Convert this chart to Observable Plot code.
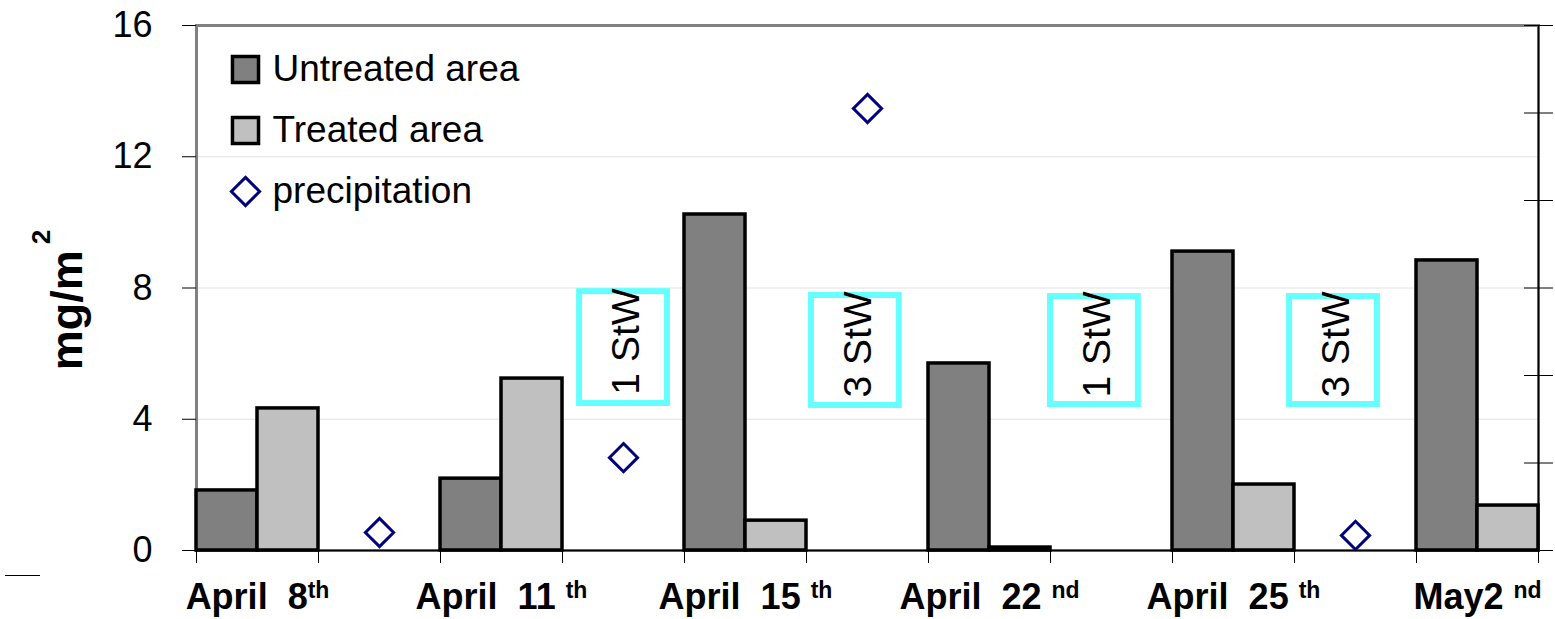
<!DOCTYPE html>
<html><head><meta charset="utf-8">
<script src="https://cdn.jsdelivr.net/npm/d3@7"></script>
<script src="https://cdn.jsdelivr.net/npm/@observablehq/plot@0.6"></script>
<style>
html,body{margin:0;padding:0;background:#fff;}
#chart{position:relative;width:1555px;height:619px;overflow:hidden;}
#chart svg text{white-space:pre;}
#stray{position:absolute;left:5px;top:575px;width:35px;height:0;border-top:1.5px solid #000;}
</style></head><body><div id="chart"><div id="stray"></div></div>
<script>
// ---- data ----
const dates = ["April  8", "April  11 ", "April  15 ", "April  22 ", "April  25 ", "May2 "];
const dateSuffix = ["th", "th", "th", "nd", "th", "nd"];
const untreated = [1.83, 2.19, 10.24, 5.70, 9.11, 8.84];
const treated = [4.33, 5.24, 0.91, 0.09, 2.01, 1.37];
const precipSlot = [1, 3, 5, 9];            // category slots between the dates
const precipitation = [0.55, 2.83, 13.47, 0.46];
const notes = ["1 StW", "3 StW", "1 StW", "3 StW"];
const noteSlot = [3.50, 5.40, 7.36, 9.32];
const noteLow = [4.48, 4.42, 4.45, 4.45];
const noteHigh = [7.89, 7.77, 7.74, 7.74];
const yTicks = [0, 4, 8, 12, 16];
const seriesNames = ["Untreated area", "Treated area", "precipitation"];

// ---- tables ----
const bars = dates.flatMap((d, g) => [
  {x1: 2 * g, x2: 2 * g + 0.5, y: untreated[g], s: seriesNames[0]},
  {x1: 2 * g + 0.5, x2: 2 * g + 1, y: treated[g], s: seriesNames[1]}
]);
const precip = precipitation.map((p, i) => ({x: precipSlot[i] + 0.5, y: p}));
const labels = dates.map((d, g) => ({x: 2 * g + 0.5, main: d, sup: dateSuffix[g]}));
const noteData = notes.map((t, i) => ({t, cx: noteSlot[i], lo: noteLow[i], hi: noteHigh[i]}));
const rightTicks = d3.range(0, 7).map(k => k * 16 / 6);
const slotTicks = d3.range(0, 12);

const FONT = "'Liberation Sans', Arial, Helvetica, sans-serif";
const boxHalf = 0.36;

const legendMarks = seriesNames.flatMap((name, i) => {
  const dy = 44 + i * 61;
  const sym = i < 2
    ? Plot.dot([name], {frameAnchor: "top-left", dx: 49, dy, symbol: "square", r: 14.7, fill: d => d, stroke: "black", strokeWidth: 3.5})
    : Plot.dot([name], {frameAnchor: "top-left", dx: 49, dy, symbol: "diamond2", r: 12.7, fill: "white", stroke: "#000080", strokeWidth: 3});
  return [sym, Plot.text([name], {frameAnchor: "top-left", dx: 76, dy, text: d => d, textAnchor: "start", lineAnchor: "middle", fontSize: 37, fill: "black"})];
});

const chart = Plot.plot({
  width: 1555, height: 619,
  marginLeft: 196, marginRight: 17, marginTop: 25, marginBottom: 69,
  style: {fontFamily: FONT, background: "white", color: "black", overflow: "visible"},
  x: {domain: [0, 11], axis: null},
  y: {domain: [0, 16], axis: null},
  color: {domain: seriesNames.slice(0, 2), range: ["#808080", "#c0c0c0"]},
  marks: [
    Plot.gridY([4, 8, 12], {stroke: "#e2e2e2", strokeOpacity: 1, strokeWidth: 1}),
    Plot.frame({stroke: "#808080", strokeWidth: 3}),
    Plot.rectY(bars, {x1: "x1", x2: "x2", y: "y", fill: "s", stroke: "black", strokeWidth: 3.5}),
    Plot.rect(noteData, {x1: d => d.cx - boxHalf, x2: d => d.cx + boxHalf, y1: "lo", y2: "hi", fill: "none", stroke: "#66ffff", strokeWidth: 6}),
    Plot.text(noteData, {x: "cx", y: d => (d.lo + d.hi) / 2, text: "t", rotate: -90, fontSize: 39, fill: "black", textAnchor: "middle", lineAnchor: "middle", dx: 3, dy: -6}),
    Plot.dot(precip, {x: "x", y: "y", symbol: "diamond2", r: 12.7, fill: "white", stroke: "#000080", strokeWidth: 3}),
    ...legendMarks,
    Plot.ruleX([11], {stroke: "black", strokeWidth: 1.5}),
    Plot.ruleY([0], {stroke: "black", strokeWidth: 1.5}),
    Plot.axisY(yTicks, {anchor: "left", tickSize: 14, tickPadding: 30, fontSize: 36, label: null, stroke: "black", fill: "black"}),
    Plot.axisY(rightTicks, {anchor: "right", tickSize: 29, dx: -15, tickFormat: () => "", label: null, stroke: "black"}),
    Plot.axisX(slotTicks, {anchor: "bottom", tickSize: 13, tickFormat: () => "", label: null, stroke: "black"}),
    Plot.text(labels, {x: "x", frameAnchor: "bottom", dy: 58, text: "main", lineAnchor: "bottom", textAnchor: "middle", fontSize: 36, fontWeight: "bold", fill: "black", className: "xlab"})
  ]
});

document.getElementById("chart").appendChild(chart);

// superscripts on date labels
const svg = d3.select(chart);
svg.selectAll("g.xlab text").each(function(d, i) {
  const sup = labels[i].sup;
  d3.select(this).append("tspan").attr("dy", -11).attr("font-size", 23).text(sup);
});

// y-axis title with superscript
const yt = svg.append("text")
  .attr("transform", "translate(82,300) rotate(-90)")
  .attr("text-anchor", "middle")
  .attr("font-family", FONT)
  .attr("font-weight", "bold")
  .attr("font-size", 45)
  .attr("fill", "black");
yt.append("tspan").text("mg/m");
yt.append("tspan").attr("dx", 6).attr("dy", -32).attr("font-size", 26).text("2");
</script>
</body></html>
